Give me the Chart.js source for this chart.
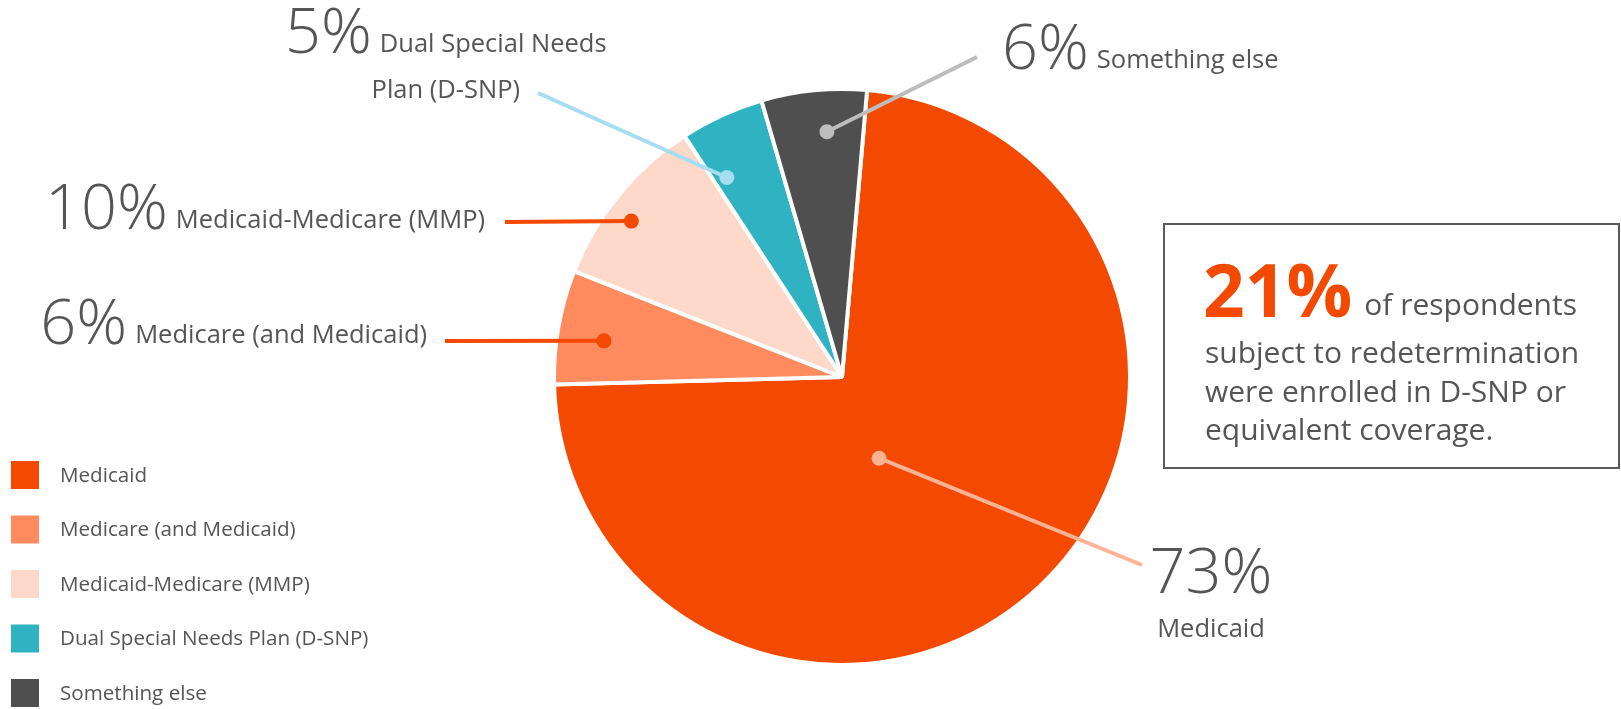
<!DOCTYPE html>
<html>
<head>
<meta charset="utf-8">
<script src="https://cdn.jsdelivr.net/npm/chart.js@4.4.1/dist/chart.umd.min.js"></script>
<style>
  html, body { margin: 0; padding: 0; background: #fff; }
  #wrap { position: relative; width: 1621px; height: 709px; }
</style>
</head>
<body>
<div id="wrap"><canvas id="plans"></canvas></div>
<script>
const categories = [
  "Medicaid",
  "Medicare (and Medicaid)",
  "Medicaid-Medicare (MMP)",
  "Dual Special Needs Plan (D-SNP)",
  "Something else",
];
// slice sizes; labels show them rounded
const shares = [73.2, 6.4, 9.8, 4.7, 5.9];
const sliceLabels = [
  ["Medicaid"],
  ["Medicare (and Medicaid)"],
  ["Medicaid-Medicare (MMP)"],
  ["Dual Special Needs", "Plan (D-SNP)"],
  ["Something else"],
];
const sliceColors = ["#f44900", "#ff8b5e", "#fed8c9", "#2fb3c3", "#4f4f4f"];
const leaderColors = ["#ffb394", "#f44900", "#f44900", "#a6ddf0", "#bdbdbd"];
const calloutShare = 21;
const calloutLines = [
  "of respondents",
  "subject to redetermination",
  "were enrolled in D-SNP or",
  "equivalent coverage.",
];

const FONT = "'Open Sans', 'Noto Sans', sans-serif";
const TEXT = "#555555";

// where each leader line starts (angle offset from slice middle, share of radius)
// and where it ends / the label sits
const leaders = [
  { turn: 18.7, r: 0.31, end: [1142, 565], at: [1211, 593], align: "stack" },
  { turn: -1.4, r: 0.836, end: [445, 341], at: [427, 344], align: "right" },
  { turn: -2.7, r: 0.91, end: [505, 222], at: [485, 229], align: "right" },
  { turn: -5.3, r: 0.8, end: [538, 93], at: [285, 53], align: "left" },
  { turn: 2.1, r: 0.853, end: [977, 57], at: [1002, 69], align: "left" },
];

function bigPct(ctx, v) {
  ctx.font = "300 63px " + FONT;
  return Math.round(v) + "%";
}

const labelPlugin = {
  id: "sliceLabels",
  afterDatasetsDraw(chart) {
    const ctx = chart.ctx;
    const arcs = chart.getDatasetMeta(0).data;
    ctx.save();

    arcs.forEach((arc, i) => {
      const { x, y, startAngle, endAngle, outerRadius } = arc.getProps(
        ["x", "y", "startAngle", "endAngle", "outerRadius"], true);
      const l = leaders[i];
      const a = (startAngle + endAngle) / 2 + (l.turn * Math.PI) / 180;
      const px = x + Math.cos(a) * outerRadius * l.r;
      const py = y + Math.sin(a) * outerRadius * l.r;
      ctx.strokeStyle = leaderColors[i];
      ctx.fillStyle = leaderColors[i];
      ctx.lineWidth = 4;
      ctx.beginPath();
      ctx.moveTo(px, py);
      ctx.lineTo(l.end[0], l.end[1]);
      ctx.stroke();
      ctx.beginPath();
      ctx.arc(px, py, 7.5, 0, Math.PI * 2);
      ctx.fill();

      // label text
      ctx.fillStyle = TEXT;
      ctx.textBaseline = "alphabetic";
      const small = "25.5px " + FONT;
      const pct = bigPct(ctx, shares[i]);
      const pw = ctx.measureText(pct).width;
      ctx.font = small;
      const nw = ctx.measureText(sliceLabels[i][0]).width;
      const gap = 8;
      const [ax, ay] = l.at;
      if (l.align === "stack") {
        ctx.textAlign = "center";
        bigPct(ctx, shares[i]);
        ctx.fillText(pct, ax, ay);
        ctx.font = small;
        ctx.fillText(sliceLabels[i][0], ax, ay + 44);
      } else {
        const left = l.align === "right" ? ax - nw - gap - pw : ax;
        ctx.textAlign = "left";
        bigPct(ctx, shares[i]);
        ctx.fillText(pct, left, ay);
        ctx.font = small;
        ctx.fillText(sliceLabels[i][0], left + pw + gap, ay - 1);
        if (sliceLabels[i][1]) {
          ctx.textAlign = "center";
          ctx.fillText(sliceLabels[i][1], left + (pw + gap + nw) / 2, ay + 45);
        }
      }
    });

    // legend
    ctx.textAlign = "left";
    ctx.textBaseline = "middle";
    ctx.font = "20.6px " + FONT;
    categories.forEach((c, i) => {
      const top = 461 + i * 54.5;
      ctx.fillStyle = sliceColors[i];
      ctx.fillRect(11, top, 28, 28);
      ctx.fillStyle = TEXT;
      ctx.fillText(c, 60, top + 15);
    });

    // callout box
    ctx.strokeStyle = "#5a5a5a";
    ctx.lineWidth = 2;
    ctx.strokeRect(1164, 224, 455, 244);
    ctx.textBaseline = "alphabetic";
    ctx.font = "bold 73px " + FONT;
    ctx.fillStyle = "#f44900";
    const big = calloutShare + "%";
    ctx.fillText(big, 1203, 317);
    const bw = ctx.measureText(big).width;
    ctx.font = "30px " + FONT;
    ctx.fillStyle = TEXT;
    ctx.fillText(calloutLines[0], 1203 + bw + 12, 315);
    calloutLines.slice(1).forEach((t, i) => {
      ctx.fillText(t, 1205, 363 + i * 38.5);
    });

    ctx.restore();
  },
};

new Chart(document.getElementById("plans"), {
  type: "pie",
  data: {
    labels: categories,
    datasets: [
      {
        data: shares,
        backgroundColor: sliceColors,
        borderColor: "#ffffff",
        borderWidth: 4,
        radius: 288,
        rotation: 5,
      },
    ],
  },
  options: {
    responsive: true,
    maintainAspectRatio: false,
    animation: false,
    events: [],
    layout: { padding: { top: 45, left: 63, right: 0, bottom: 0 } },
    plugins: {
      legend: { display: false },
      tooltip: { enabled: false },
    },
  },
  plugins: [labelPlugin],
});
</script>
</body>
</html>
